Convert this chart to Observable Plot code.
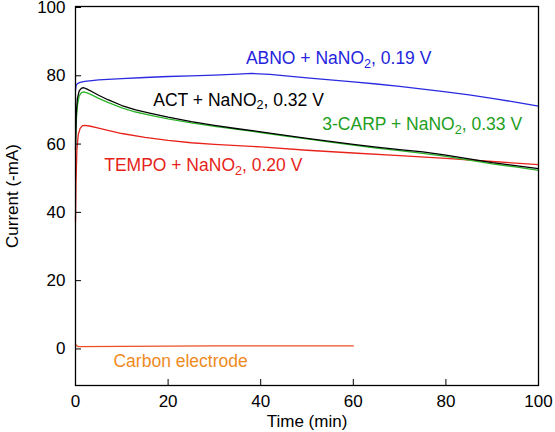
<!DOCTYPE html>
<html>
<head>
<meta charset="utf-8">
<script src="https://cdn.jsdelivr.net/npm/d3@7"></script>
<script src="https://cdn.jsdelivr.net/npm/@observablehq/plot@0.6"></script>
<style>
  html, body { margin: 0; padding: 0; background: #fff; }
  svg { display: block; }
</style>
</head>
<body>
<div id="chart"></div>
<script>
// ---- data ----
const xTicks = [0, 20, 40, 60, 80, 100];
const yTicks = [0, 20, 40, 60, 80, 100];

const abnoTime = [0, 0.15, 0.5, 1, 2, 5, 10, 15, 20, 25, 30, 35, 38, 42, 46, 50, 55, 60, 65, 70, 75, 80, 85, 90, 95, 100];
const abnoCurrent = [75.5, 77.0, 77.5, 77.8, 78.1, 78.5, 78.9, 79.2, 79.5, 79.7, 79.9, 80.2, 80.4, 80.1, 79.6, 79.1, 78.5, 77.9, 77.3, 76.6, 75.8, 75.0, 74.1, 73.1, 72.0, 70.8];

const actTime = [0, 0.15, 0.4, 0.8, 1.3, 1.8, 2.5, 3.5, 5, 7, 10, 13, 16, 20, 25, 30, 35, 40, 45, 50, 55, 60, 65, 70, 75, 80, 85, 90, 95, 100];
const actCurrent = [58, 68, 73, 75.3, 76.1, 76.2, 75.8, 75.1, 74.0, 72.7, 71.0, 69.7, 68.8, 67.6, 66.3, 65.2, 64.2, 63.3, 62.3, 61.4, 60.5, 59.6, 58.8, 58.1, 57.4, 56.5, 55.4, 54.3, 53.4, 52.5];

const carpTime = [0, 0.15, 0.4, 0.8, 1.3, 1.8, 2.5, 3.5, 5, 7, 10, 13, 16, 20, 25, 30, 35, 40, 45, 50, 55, 60, 65, 70, 75, 80, 85, 90, 95, 100];
const carpCurrent = [60, 66, 71, 73.8, 74.8, 75.0, 74.7, 74.1, 73.1, 71.9, 70.3, 69.1, 68.2, 67.1, 65.9, 64.9, 64.0, 63.1, 62.1, 61.2, 60.3, 59.4, 58.5, 57.8, 57.0, 56.1, 55.0, 53.9, 53.0, 52.0];

const tempoTime = [0, 0.1, 0.3, 0.6, 1, 1.5, 2, 3, 5, 7, 10, 15, 20, 25, 30, 40, 50, 60, 70, 80, 90, 100];
const tempoCurrent = [37, 48, 58, 62.5, 64.3, 65.1, 65.2, 65.0, 64.4, 63.7, 62.8, 61.7, 60.8, 60.1, 59.6, 58.9, 57.9, 57.1, 56.3, 55.5, 54.6, 53.7];

const carbonTime = [0, 0.5, 10, 20, 30, 40, 50, 60];
const carbonCurrent = [1.0, 0.4, 0.45, 0.55, 0.6, 0.6, 0.6, 0.6];

const seriesNames = ["ABNO", "ACT", "3-CARP", "TEMPO", "Carbon"];
const seriesColors = ["#2a2ae0", "#000000", "#2bb52b", "#e8231c", "#ec4e22"];

const labelTexts = ["ABNO + NaNO2, 0.19 V", "ACT + NaNO2, 0.32 V", "3-CARP + NaNO2, 0.33 V", "TEMPO + NaNO2, 0.20 V", "Carbon electrode"];
const labelColors = ["#2424dd", "#000000", "#1e9e1e", "#e51f1a", "#ee8a1e"];
const labelTime = [36.8, 16.8, 53.3, 6.2, 8.2];
const labelCurrent = [84.8, 72.6, 65.4, 53.5, -3.9];

// ---- build tables ----
function rows(name, t, v) { return t.map((x, i) => ({series: name, time: x, current: v[i]})); }
const lines = [
  ...rows("ABNO", abnoTime, abnoCurrent),
  ...rows("TEMPO", tempoTime, tempoCurrent),
  ...rows("3-CARP", carpTime, carpCurrent),
  ...rows("ACT", actTime, actCurrent),
  ...rows("Carbon", carbonTime, carbonCurrent)
];
const labels = labelTexts.map((t, i) => ({text: t, time: labelTime[i], current: labelCurrent[i], color: labelColors[i]}));

const font = "'Liberation Sans', Arial, Helvetica, sans-serif";

const chart = Plot.plot({
  width: 555,
  height: 432,
  marginLeft: 75,
  marginRight: 17,
  marginTop: 6,
  marginBottom: 47,
  style: {fontFamily: font, fontSize: "17px", background: "#fff", color: "#000"},
  x: {domain: [0, 100]},
  y: {domain: [-11, 100]},
  color: {domain: seriesNames, range: seriesColors},
  marks: [
    Plot.line(lines, {x: "time", y: "current", z: "series", stroke: "series", strokeWidth: 1.3}),
    Plot.text(labels, {x: "time", y: "current", text: "text", fill: "color", textAnchor: "start", lineAnchor: "middle", fontSize: 17.5}),
    Plot.axisX({ticks: xTicks, tickSize: -6, tickPadding: 15, tickFormat: d => String(d), fontSize: 17, label: "Time (min)", labelAnchor: "center", labelArrow: "none", labelOffset: 41}),
    Plot.axisY({ticks: yTicks, tickSize: -6, tickPadding: 16, dy: 1, tickFormat: d => String(d), fontSize: 17, label: "Current (-mA)", labelAnchor: "center", labelArrow: "none", labelOffset: 70}),
    Plot.frame({stroke: "#000", strokeWidth: 1.3})
  ]
});

document.getElementById("chart").appendChild(chart);

// subscript the "2" in NaNO2
d3.select(chart).selectAll("text").each(function() {
  const el = d3.select(this);
  const tspans = el.selectAll("tspan");
  const target = tspans.empty() ? el : tspans;
  target.each(function() {
    const node = d3.select(this);
    const s = node.text();
    const idx = s.indexOf("NaNO2");
    if (idx < 0) return;
    const before = s.slice(0, idx + 4);
    const after = s.slice(idx + 5);
    node.text(before);
    node.append("tspan").attr("dy", "0.3em").attr("font-size", "0.72em").text("2");
    node.append("tspan").attr("dy", "-0.22em").text(after);
  });
});
</script>
</body>
</html>
